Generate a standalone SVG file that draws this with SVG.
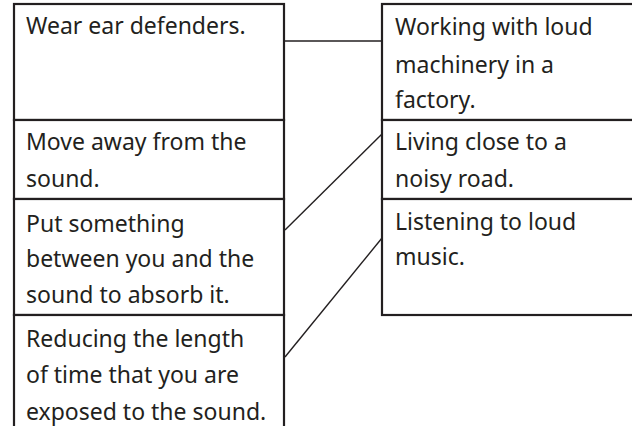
<svg xmlns="http://www.w3.org/2000/svg" width="632" height="426" viewBox="0 0 632 426">
<style>
.box{fill:#fff;stroke:#231f20;stroke-width:2.2}
.t{font-family:"Noto Sans","Open Sans",sans-serif;font-size:23px;fill:#231f20}
.c{stroke:#231f20;stroke-width:1.4;fill:none}
</style>
<rect width="632" height="426" fill="#fff"/>
<g id="connectors">
<line class="c" x1="285" y1="41" x2="382" y2="41"/>
<line class="c" x1="285" y1="230" x2="382" y2="134"/>
<line class="c" x1="285" y1="357" x2="382" y2="238"/>
</g>
<g id="l1"><rect class="box" x="14" y="4" width="270" height="116"/><text class="t" x="26" y="34">Wear ear defenders.</text></g>
<g id="l2"><rect class="box" x="14" y="120" width="270" height="79"/><text class="t" x="26" y="150">Move away from the</text><text class="t" x="26" y="187">sound.</text></g>
<g id="l3"><rect class="box" x="14" y="199" width="270" height="116"/><text class="t" x="26" y="232">Put something</text><text class="t" x="26" y="267">between you and the</text><text class="t" x="26" y="303">sound to absorb it.</text></g>
<g id="l4"><rect class="box" x="14" y="315" width="270" height="120"/><text class="t" x="26" y="347">Reducing the length</text><text class="t" x="26" y="383">of time that you are</text><text class="t" x="26" y="420">exposed to the sound.</text></g>
<g id="r1"><rect class="box" x="382" y="4" width="260" height="116"/><text class="t" x="395" y="35">Working with loud</text><text class="t" x="395" y="73">machinery in a</text><text class="t" x="395" y="108">factory.</text></g>
<g id="r2"><rect class="box" x="382" y="120" width="260" height="79"/><text class="t" x="395" y="150">Living close to a</text><text class="t" x="395" y="187">noisy road.</text></g>
<g id="r3"><rect class="box" x="382" y="199" width="260" height="116"/><text class="t" x="395" y="230">Listening to loud</text><text class="t" x="395" y="265">music.</text></g>
</svg>
